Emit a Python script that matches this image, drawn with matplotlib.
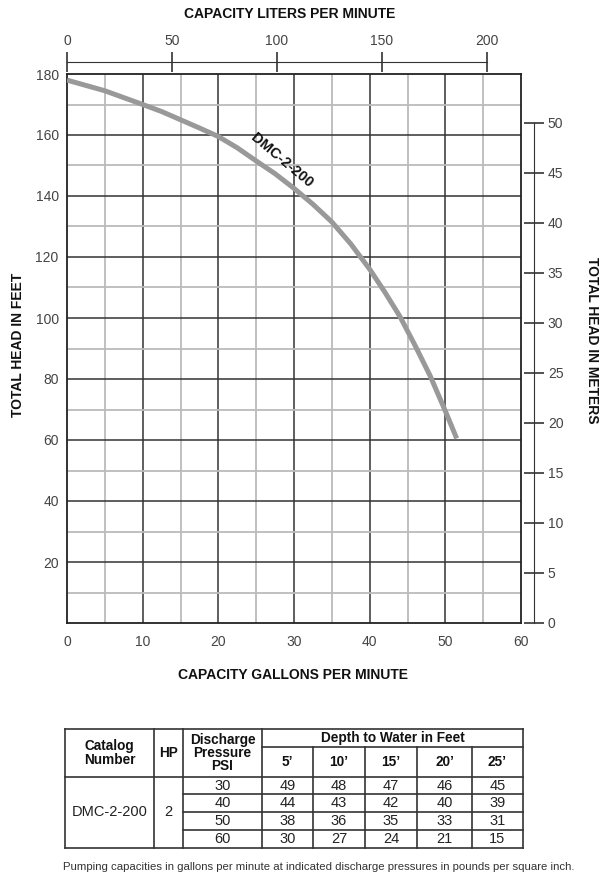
import matplotlib
matplotlib.use("Agg")
import matplotlib.pyplot as plt

plt.rcParams['font.family'] = ['Liberation Sans', 'DejaVu Sans']

# pump curve (gpm, feet of head)
gpm = [0, 5, 10, 12.5, 15, 17.5, 20, 22.5, 25, 27.5, 30, 32.5, 35, 37.5, 40, 42, 44, 46, 48, 50, 51.5]
head_ft = [178, 174.5, 170, 167.7, 165, 162.3, 159.5, 155.8, 151.5, 147.3, 142.5, 137.3, 131.5, 124.3,
           116, 108.5, 100.5, 91, 81, 69.5, 60.5]
curve_name = "DMC-2-200"

lpm_ticks = [0, 50, 100, 150, 200]
m_ticks = [0, 5, 10, 15, 20, 25, 30, 35, 40, 45, 50]

# table
catalog = "DMC-2-200"
hp = "2"
psi = ["30", "40", "50", "60"]
depths = ["5\u2019", "10\u2019", "15\u2019", "20\u2019", "25\u2019"]
capacity = [[49, 48, 47, 46, 45],
            [44, 43, 42, 40, 39],
            [38, 36, 35, 33, 31],
            [30, 27, 24, 21, 15]]
footnote = "Pumping capacities in gallons per minute at indicated discharge pressures in pounds per square inch."

W, H = 607, 883
fig = plt.figure(figsize=(W / 100, H / 100), dpi=100)

def box(x0, y0, x1, y1):
    return [x0 / W, 1 - y1 / H, (x1 - x0) / W, (y1 - y0) / H]

lab_col = '#444444'

# ---- main chart
ax = fig.add_axes(box(67, 74, 521, 623))
ax.set_xlim(0, 60)
ax.set_ylim(0, 180)
for x in range(5, 60, 5):
    ax.axvline(x, color='#333333' if x % 10 == 0 else '#bbbbbb', lw=1.1 if x % 10 == 0 else 1.3, zorder=1)
for y in range(10, 180, 10):
    ax.axhline(y, color='#333333' if y % 20 == 0 else '#bbbbbb', lw=1.1 if y % 20 == 0 else 1.3, zorder=1)
ax.plot(gpm, head_ft, color='#999999', lw=3.6, solid_capstyle='butt', solid_joinstyle='round', zorder=3)
ax.text(28.4, 151.8, curve_name, rotation=-40, ha='center', va='center', fontsize=10.5,
        fontweight='bold', color='#111111', zorder=4)
ax.set_xticks(range(0, 61, 10))
ax.set_yticks(range(20, 181, 20))
ax.tick_params(length=0, labelsize=10, labelcolor=lab_col)
ax.tick_params(axis='x', pad=9)
ax.tick_params(axis='y', pad=6)
for s in ax.spines.values():
    s.set_linewidth(1.3)
    s.set_color('#222222')

# ---- top liters axis
axt = fig.add_axes(box(67, 62, 521, 62.5))
axt.set_xlim(0, 216.2)
axt.set_ylim(0, 1)
for k in ['left', 'right', 'bottom']:
    axt.spines[k].set_visible(False)
axt.spines['top'].set_bounds(0, 200)
axt.spines['top'].set_color('#333333')
axt.set_yticks([])
axt.xaxis.tick_top()
axt.set_xticks(lpm_ticks)
axt.tick_params(axis='x', direction='inout', length=14, width=1.2, color='#333333',
                labelsize=10, labelcolor=lab_col, pad=3)
axt.patch.set_visible(False)

# ---- right meters axis
axr = fig.add_axes(box(533.5, 74, 534, 623))
axr.set_ylim(0, 180 * 0.3048)
axr.set_xlim(0, 1)
for k in ['left', 'top', 'bottom']:
    axr.spines[k].set_visible(False)
axr.spines['right'].set_bounds(0, 50)
axr.spines['right'].set_color('#333333')
axr.set_xticks([])
axr.yaxis.tick_right()
axr.set_yticks(m_ticks)
axr.tick_params(axis='y', direction='inout', length=14, width=1.2, color='#333333',
                labelsize=10, labelcolor=lab_col, pad=3)
axr.patch.set_visible(False)

# ---- titles
tkw = dict(fontsize=10, fontweight='bold', color='#111111')
fig.text(290 / W, 1 - 14 / H, "CAPACITY LITERS PER MINUTE", ha='center', va='center', **tkw)
fig.text(293 / W, 1 - 675 / H, "CAPACITY GALLONS PER MINUTE", ha='center', va='center', **tkw)
fig.text(18 / W, 1 - 345 / H, "TOTAL HEAD IN FEET", ha='center', va='center', rotation=90, **tkw)
fig.text(592 / W, 1 - 340 / H, "TOTAL HEAD IN METERS", ha='center', va='center', rotation=270, **tkw)

# ---- table drawn in pixel coordinates
tb = fig.add_axes([0, 0, 1, 1])
tb.set_xlim(0, W)
tb.set_ylim(H, 0)
tb.axis('off')
tb.patch.set_visible(False)

cols = [65, 154, 183, 262, 313, 365, 417, 472, 523]
top, sub, hdr = 729, 747, 777
rows = [777, 794, 812, 830, 848]
lc = '#333333'
lw = 1.2
tb.plot([cols[0], cols[-1]], [top, top], color=lc, lw=lw)
tb.plot([cols[3], cols[-1]], [sub, sub], color=lc, lw=lw)
tb.plot([cols[0], cols[-1]], [hdr, hdr], color=lc, lw=lw)
tb.plot([cols[0], cols[-1]], [rows[-1], rows[-1]], color=lc, lw=lw)
for r in rows[1:-1]:
    tb.plot([cols[2], cols[-1]], [r, r], color=lc, lw=lw)
for i, c in enumerate(cols):
    y0 = sub if 4 <= i <= 7 else top
    tb.plot([c, c], [y0, rows[-1]], color=lc, lw=lw)

hkw = dict(ha='center', va='center', fontsize=9.8, fontweight='bold', color='#111111', linespacing=0.92)
tb.text((cols[0] + cols[1]) / 2, 753, "Catalog\nNumber", **hkw)
tb.text((cols[1] + cols[2]) / 2, 753, "HP", **hkw)
tb.text((cols[2] + cols[3]) / 2, 753, "Discharge\nPressure\nPSI", **hkw)
tb.text((cols[3] + cols[-1]) / 2, 738, "Depth to Water in Feet", **hkw)
for j, d in enumerate(depths):
    tb.text((cols[3 + j] + cols[4 + j]) / 2, 762, d, **hkw)

dkw = dict(ha='center', va='center', fontsize=10.5, color='#222222')
tb.text((cols[0] + cols[1]) / 2, 812, catalog, **dkw)
tb.text((cols[1] + cols[2]) / 2, 812, hp, **dkw)
for i, p in enumerate(psi):
    yc = (rows[i] + rows[i + 1]) / 2
    tb.text((cols[2] + cols[3]) / 2, yc, p, **dkw)
    for j in range(5):
        tb.text((cols[3 + j] + cols[4 + j]) / 2, yc, str(capacity[i][j]), **dkw)

tb.text(63, 867, footnote, ha='left', va='center', fontsize=8.2, color='#333333')

fig.savefig("out.png", dpi=100)
